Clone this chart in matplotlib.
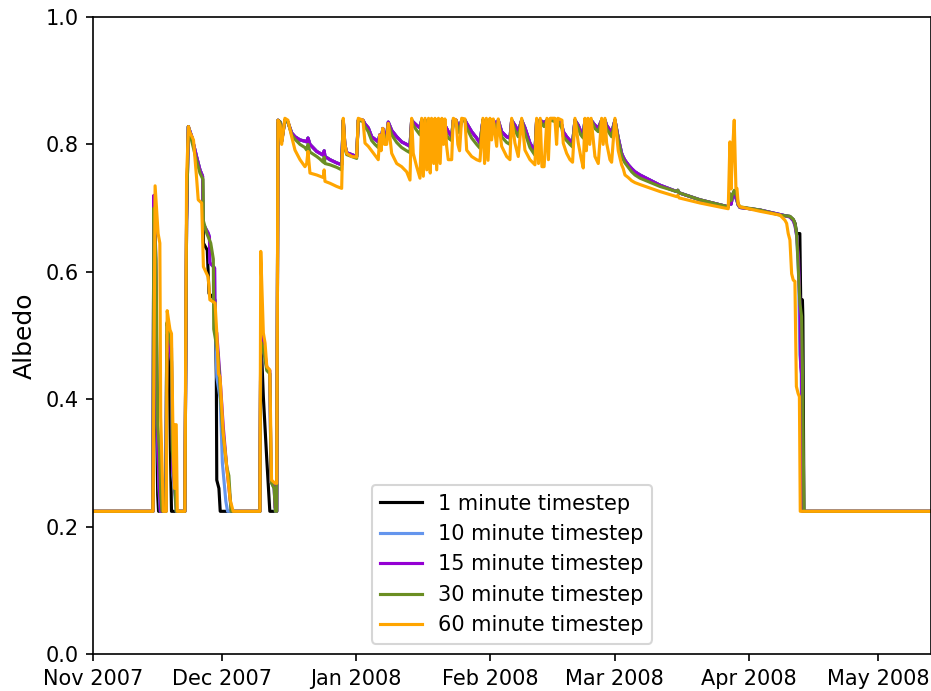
import numpy as np
import matplotlib
matplotlib.use("Agg")
import matplotlib.pyplot as plt
import matplotlib.dates as mdates

START = np.datetime64("2007-11-01T00:00")
END_DAY = 194.2

labels = ["1 minute timestep", "10 minute timestep", "15 minute timestep",
          "30 minute timestep", "60 minute timestep"]
colors = ["black", "cornflowerblue", "darkviolet", "olivedrab", "orange"]

# ---- early season: intermittent snow cover (days since 1 Nov 2007) ----
early_days_1 = [0, 13.9, 14.1, 14.5, 14.8, 15.0, 15.2, 16.9, 17.1, 17.6, 18.0, 18.2,
                21.3, 21.7, 22.1, 22.9, 24.0, 24.8, 25.4, 25.6, 26.5, 26.9, 28.3, 28.6,
                28.7, 29.2, 29.5, 38.7, 38.9, 39.5, 40.3, 41.0, 42.6]
early_alb_1 = [0.224, 0.224, 0.71, 0.62, 0.35, 0.25, 0.224, 0.224, 0.50, 0.49, 0.30, 0.224,
               0.224, 0.68, 0.828, 0.812, 0.781, 0.76, 0.75, 0.645, 0.634, 0.566, 0.556, 0.435,
               0.273, 0.26, 0.224, 0.224, 0.505, 0.404, 0.305, 0.224, 0.224]

early_days_10 = [0, 13.9, 14.1, 14.5, 14.9, 15.3, 15.6, 16.9, 17.1, 17.6, 18.2, 18.5, 19.0,
                 19.3, 21.3, 21.7, 22.1, 22.9, 24.0, 24.8, 25.4, 25.5, 26.7, 27.0, 27.1, 28.2,
                 28.3, 28.7, 29.5, 30.0, 30.8, 31.2, 38.7, 38.9, 39.5, 40.3, 41.0, 41.3, 42.0,
                 42.3, 42.6]
early_alb_10 = [0.224, 0.224, 0.71, 0.63, 0.36, 0.26, 0.224, 0.224, 0.50, 0.49, 0.46, 0.28,
                0.25, 0.224, 0.224, 0.68, 0.828, 0.812, 0.781, 0.76, 0.75, 0.676, 0.661, 0.655,
                0.614, 0.606, 0.55, 0.435, 0.40, 0.30, 0.24, 0.224, 0.224, 0.49, 0.48, 0.45,
                0.44, 0.27, 0.26, 0.224, 0.224]

early_days_15 = [0, 13.9, 14.1, 14.5, 14.9, 15.3, 15.7, 16.9, 17.1, 17.6, 18.2, 18.5, 19.0,
                 19.4, 21.3, 21.7, 22.1, 22.9, 24.0, 24.8, 25.4, 25.5, 26.7, 27.0, 27.1, 28.2,
                 28.3, 28.7, 29.1, 29.45, 30.2, 31.0, 31.8, 32.1, 38.7, 38.9, 39.5, 40.3, 41.0,
                 41.3, 42.0, 42.2, 42.6]
early_alb_15 = [0.224, 0.224, 0.72, 0.64, 0.37, 0.27, 0.224, 0.224, 0.50, 0.495, 0.46, 0.29,
                0.26, 0.224, 0.224, 0.68, 0.828, 0.812, 0.781, 0.76, 0.75, 0.676, 0.661, 0.655,
                0.614, 0.606, 0.51, 0.504, 0.467, 0.435, 0.357, 0.294, 0.242, 0.224, 0.224,
                0.50, 0.49, 0.45, 0.445, 0.27, 0.265, 0.23, 0.224]

early_days_30 = [0, 13.9, 14.1, 14.6, 15.0, 15.4, 15.7, 16.0, 16.9, 17.1, 17.6, 18.2, 18.4,
                 18.9, 19.3, 21.3, 21.7, 22.1, 22.9, 24.0, 24.8, 25.5, 25.6, 26.4, 27.3, 27.9,
                 28.0, 29.0, 30.0, 31.0, 31.5, 32.0, 38.7, 38.9, 39.5, 40.3, 41.0, 41.3, 42.0,
                 42.3, 42.6]
early_alb_30 = [0.224, 0.224, 0.70, 0.62, 0.36, 0.32, 0.25, 0.224, 0.224, 0.52, 0.505, 0.48,
                0.32, 0.27, 0.224, 0.224, 0.68, 0.828, 0.805, 0.775, 0.755, 0.745, 0.68, 0.66,
                0.645, 0.62, 0.51, 0.47, 0.357, 0.294, 0.28, 0.224, 0.224, 0.49, 0.48, 0.445,
                0.44, 0.27, 0.26, 0.224, 0.224]

early_days_60 = [0, 13.9, 14.0, 14.4, 15.1, 15.5, 15.7, 16.0, 16.3, 17.0, 17.2, 17.85, 18.2,
                 18.5, 18.7, 18.9, 19.0, 19.3, 19.55, 21.3, 21.7, 22.15, 22.4, 23.3, 24.0, 24.4,
                 25.2, 25.6, 26.7, 27.1, 28.3, 28.7, 29.1, 29.45, 30.2, 31.0, 31.8, 32.5, 38.7,
                 38.9, 39.5, 39.9, 40.3, 41.0, 41.4, 42.2, 42.6]
early_alb_60 = [0.224, 0.224, 0.30, 0.735, 0.66, 0.645, 0.372, 0.30, 0.224, 0.224, 0.539,
                0.509, 0.503, 0.367, 0.30, 0.26, 0.36, 0.36, 0.224, 0.224, 0.75, 0.828, 0.82,
                0.807, 0.749, 0.713, 0.708, 0.608, 0.592, 0.556, 0.551, 0.504, 0.44, 0.435,
                0.347, 0.294, 0.242, 0.224, 0.224, 0.632, 0.504, 0.488, 0.451, 0.446, 0.273,
                0.268, 0.268]

# ---- winter: continuous snow pack with repeated fresh snowfalls ----
winter_days = [42.9, 43.4, 43.75, 44.5, 45.2, 46.07, 46.84, 48.0, 49.15, 49.55, 49.85, 50.31,
               51.87, 52.63, 53.4, 53.6, 53.79, 54.95, 56.5, 57.66, 58.03, 58.4, 58.82, 59.98,
               61.14, 61.51, 62.6, 63.07, 63.83, 64.62, 65.38, 66.15, 66.5, 66.8, 67.2, 67.6,
               68.1, 68.47, 69.26, 70.42, 71.57, 72.73, 73.5, 73.89, 74.26, 75.05, 75.82, 76.21,
               76.6, 77.0, 77.4, 77.8, 78.2, 78.5, 79.0, 79.3, 79.7, 80.1, 80.5, 80.9, 81.3,
               81.6, 82.0, 82.38, 83.17, 83.54, 84.2, 84.6, 85.0, 85.49, 86.25, 86.65, 87.8,
               88.96, 89.73, 90.42, 90.8, 91.2, 91.6, 92.05, 92.44, 92.81, 93.6, 93.97, 94.76,
               95.92, 96.68, 97.08, 97.84, 98.61, 99.4, 100.16, 101.32, 102.48, 102.87, 103.3,
               103.7, 104.1, 104.6, 105.26, 105.6, 106.0, 107.1, 107.5, 107.8, 108.74, 109.04,
               109.83, 110.6, 111.2, 111.76, 112.53, 113.1, 113.68, 114.07, 114.4, 114.77,
               115.2, 115.5, 116.39, 117.16, 117.94, 118.3, 118.71, 119.1, 119.87, 120.26,
               121.03, 121.8, 122.58, 122.95, 123.35, 124.11, 124.9, 125.67, 126.83, 131.46,
               135.34, 135.6, 135.9, 140.74, 147.3, 147.69, 147.95, 148.3, 148.69, 149.08,
               149.32, 149.6, 150.01, 154.65]
# 1, 10 and 15 minute runs coincide through the winter
winter_alb_fine = [0.838, 0.835, 0.805, 0.838, 0.835, 0.818, 0.812, 0.807, 0.805, 0.804,
                   0.810, 0.800, 0.789, 0.786, 0.783, 0.790, 0.781, 0.776, 0.771, 0.768,
                   0.838, 0.800, 0.787, 0.784, 0.781, 0.838, 0.838, 0.832, 0.826, 0.812,
                   0.808, 0.804, 0.815, 0.805, 0.825, 0.815, 0.815, 0.835, 0.822, 0.812,
                   0.804, 0.800, 0.797, 0.838, 0.835, 0.830, 0.826, 0.838, 0.835, 0.838,
                   0.835, 0.838, 0.835, 0.838, 0.835, 0.838, 0.835, 0.838, 0.835, 0.838,
                   0.834, 0.830, 0.825, 0.820, 0.812, 0.838, 0.838, 0.830, 0.825, 0.838,
                   0.838, 0.833, 0.820, 0.810, 0.802, 0.838, 0.836, 0.838, 0.836, 0.838,
                   0.835, 0.838, 0.830, 0.838, 0.820, 0.812, 0.810, 0.838, 0.830, 0.820,
                   0.838, 0.826, 0.802, 0.789, 0.838, 0.835, 0.838, 0.836, 0.834, 0.838,
                   0.836, 0.838, 0.838, 0.836, 0.838, 0.830, 0.820, 0.812, 0.806, 0.802,
                   0.838, 0.830, 0.820, 0.815, 0.838, 0.836, 0.838, 0.836, 0.838, 0.830,
                   0.826, 0.838, 0.836, 0.838, 0.830, 0.822, 0.818, 0.838, 0.810, 0.786,
                   0.780, 0.775, 0.768, 0.762, 0.757, 0.752, 0.736, 0.726, 0.728, 0.724,
                   0.713, 0.702, 0.722, 0.706, 0.718, 0.726, 0.716, 0.712, 0.705, 0.701,
                   0.697]
winter_alb_30 = [0.838, 0.835, 0.805, 0.838, 0.835, 0.815, 0.808, 0.800, 0.795, 0.791,
                 0.800, 0.788, 0.781, 0.777, 0.772, 0.780, 0.770, 0.768, 0.764, 0.760,
                 0.838, 0.795, 0.784, 0.781, 0.778, 0.838, 0.836, 0.828, 0.820, 0.806,
                 0.800, 0.795, 0.810, 0.800, 0.820, 0.810, 0.810, 0.832, 0.815, 0.803,
                 0.795, 0.790, 0.787, 0.838, 0.830, 0.822, 0.815, 0.838, 0.830, 0.838,
                 0.830, 0.838, 0.830, 0.838, 0.830, 0.838, 0.830, 0.838, 0.828, 0.836,
                 0.826, 0.822, 0.815, 0.810, 0.806, 0.838, 0.836, 0.825, 0.818, 0.838,
                 0.836, 0.826, 0.810, 0.800, 0.794, 0.838, 0.832, 0.838, 0.830, 0.838,
                 0.828, 0.836, 0.822, 0.835, 0.812, 0.803, 0.800, 0.838, 0.822, 0.812,
                 0.838, 0.818, 0.795, 0.783, 0.838, 0.830, 0.838, 0.832, 0.828, 0.838,
                 0.832, 0.838, 0.836, 0.832, 0.836, 0.825, 0.812, 0.806, 0.800, 0.796,
                 0.838, 0.825, 0.815, 0.810, 0.838, 0.832, 0.838, 0.832, 0.838, 0.825,
                 0.820, 0.838, 0.832, 0.838, 0.825, 0.816, 0.812, 0.838, 0.806, 0.782,
                 0.776, 0.771, 0.764, 0.757, 0.752, 0.747, 0.734, 0.726, 0.728, 0.724,
                 0.713, 0.702, 0.722, 0.712, 0.722, 0.728, 0.722, 0.718, 0.706, 0.702,
                 0.697]
winter_alb_60 = [0.838, 0.830, 0.800, 0.841, 0.838, 0.812, 0.791, 0.776, 0.765, 0.770,
                 0.789, 0.755, 0.752, 0.750, 0.748, 0.760, 0.742, 0.739, 0.734, 0.731,
                 0.841, 0.800, 0.786, 0.781, 0.780, 0.841, 0.838, 0.802, 0.797, 0.790,
                 0.783, 0.776, 0.815, 0.790, 0.825, 0.800, 0.800, 0.833, 0.786, 0.770,
                 0.765, 0.757, 0.744, 0.841, 0.786, 0.765, 0.747, 0.841, 0.750, 0.841,
                 0.760, 0.841, 0.755, 0.841, 0.770, 0.841, 0.760, 0.841, 0.770, 0.841,
                 0.800, 0.840, 0.797, 0.776, 0.776, 0.841, 0.838, 0.800, 0.790, 0.841,
                 0.840, 0.791, 0.781, 0.776, 0.774, 0.841, 0.770, 0.841, 0.775, 0.841,
                 0.807, 0.840, 0.797, 0.840, 0.797, 0.781, 0.776, 0.841, 0.802, 0.781,
                 0.841, 0.791, 0.776, 0.768, 0.841, 0.770, 0.841, 0.765, 0.765, 0.841,
                 0.776, 0.841, 0.841, 0.800, 0.841, 0.838, 0.802, 0.786, 0.776, 0.772,
                 0.841, 0.802, 0.781, 0.763, 0.841, 0.790, 0.841, 0.800, 0.841, 0.781,
                 0.770, 0.841, 0.800, 0.841, 0.802, 0.776, 0.772, 0.841, 0.790, 0.768,
                 0.762, 0.752, 0.748, 0.743, 0.740, 0.737, 0.726, 0.718, 0.720, 0.716,
                 0.708, 0.699, 0.804, 0.730, 0.790, 0.838, 0.731, 0.731, 0.707, 0.702,
                 0.695]

# ---- spring melt ----
melt_days_1 = [159.29, 160.5, 161.6, 162.4, 162.8, 163.2, 163.9, 164.1, 164.5, 164.6,
               164.85, END_DAY]
melt_alb_1 = [0.690, 0.688, 0.687, 0.682, 0.676, 0.660, 0.660, 0.556, 0.556, 0.530,
              0.224, 0.224]
melt_days_10 = [159.29, 160.5, 161.6, 162.4, 162.8, 163.2, 163.6, 163.9, 164.2, 164.5, END_DAY]
melt_alb_10 = [0.690, 0.688, 0.686, 0.680, 0.672, 0.655, 0.600, 0.470, 0.450, 0.224, 0.224]
melt_days_15 = [159.29, 160.5, 161.6, 162.4, 162.8, 163.2, 163.6, 163.9, 164.1, 164.3, 164.5,
                END_DAY]
melt_alb_15 = [0.690, 0.688, 0.686, 0.680, 0.672, 0.655, 0.620, 0.550, 0.450, 0.440, 0.224,
               0.224]
melt_days_30 = [159.29, 160.5, 161.6, 162.4, 162.76, 163.16, 163.53, 163.92, 164.3, 164.5,
                164.85, END_DAY]
melt_alb_30 = [0.689, 0.688, 0.687, 0.682, 0.676, 0.660, 0.608, 0.550, 0.530, 0.450, 0.224,
               0.224]
melt_days_60 = [159.29, 160.44, 160.84, 161.21, 161.6, 162.0, 162.37, 162.76, 163.1, 163.5,
                163.8, 164.0, END_DAY]
melt_alb_60 = [0.689, 0.681, 0.676, 0.660, 0.650, 0.597, 0.587, 0.585, 0.420, 0.409, 0.404,
               0.224, 0.224]

series = [
    (early_days_1, early_alb_1, winter_alb_fine, melt_days_1, melt_alb_1),
    (early_days_10, early_alb_10, winter_alb_fine, melt_days_10, melt_alb_10),
    (early_days_15, early_alb_15, winter_alb_fine, melt_days_15, melt_alb_15),
    (early_days_30, early_alb_30, winter_alb_30, melt_days_30, melt_alb_30),
    (early_days_60, early_alb_60, winter_alb_60, melt_days_60, melt_alb_60),
]


def to_dates(days):
    secs = np.round(np.asarray(days, dtype=float) * 86400).astype("int64")
    return START + secs.astype("timedelta64[s]")


DPI = 150
fig = plt.figure(figsize=(931 / DPI, 691 / DPI), dpi=DPI)
ax = fig.add_axes([93 / 931, 37 / 691, 837.5 / 931, 637 / 691])

for (ed, ea, wa, md, ma), lab, col in zip(series, labels, colors):
    d = np.concatenate([ed, winter_days, md])
    a = np.concatenate([ea, wa, ma])
    ax.plot(to_dates(d), a, color=col, lw=1.5, label=lab)

ax.set_xlim(to_dates([0])[0], to_dates([END_DAY])[0])
ax.set_ylim(0, 1)
ax.set_yticks(np.arange(0, 1.01, 0.2))
ax.xaxis.set_major_locator(mdates.MonthLocator())
ax.xaxis.set_major_formatter(mdates.DateFormatter("%b %Y"))
ax.set_ylabel("Albedo", fontsize=12)
ax.legend(loc="lower center")

fig.savefig("out.png", dpi=DPI)
